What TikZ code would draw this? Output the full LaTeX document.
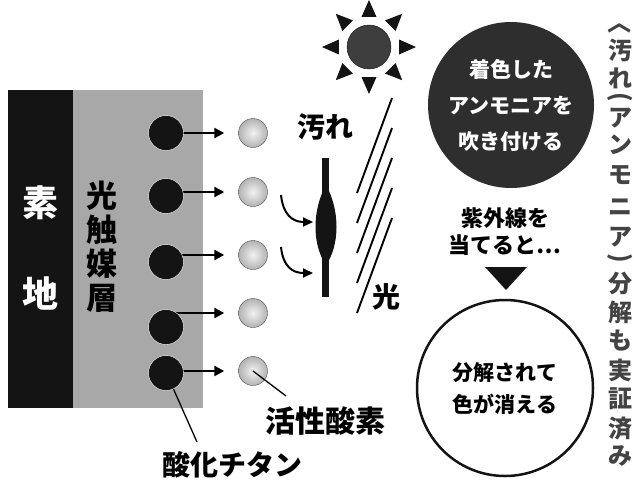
\documentclass[tikz,border=0pt]{standalone}
\usepackage{fontspec}
\setmainfont{Noto Sans CJK JP}
\usetikzlibrary{arrows.meta,positioning,calc}
\definecolor{ink}{HTML}{141414}
\definecolor{layer}{HTML}{A8A8A8}
\definecolor{sunc}{HTML}{3E3E3E}
\definecolor{dye}{HTML}{2E2E2E}
\pgfdeclarelayer{back}
\pgfsetlayers{back,main}

\begin{document}
\begin{tikzpicture}[x=1pt, y=-1pt,
  tio/.style={circle, fill=ink, draw=white, thin, minimum size=35pt, inner sep=0pt},
  rad/.style={circle, inner color=gray!10, outer color=gray!60, draw=gray!60!black,
              minimum size=29pt, inner sep=0pt},
  arr/.style={-{Triangle[length=10pt,width=10pt]}, line width=2.2pt},
  lead/.style={line width=1.3pt},
  lbl/.style={font=\fontsize{28}{28}\selectfont\bfseries, inner sep=0pt},
  bubble/.style={circle, inner sep=0pt, align=center},
  vch/.style={font=\fontsize{24}{24}\selectfont\bfseries, text=ink!80, inner sep=0pt},
  turned/.style={vch, rotate=-90}]
  \useasboundingbox (0,0) rectangle (634,479);

  % substrate and photocatalyst layer
  \begin{pgfonlayer}{back}
    \fill[ink] (8,90) rectangle (73,408);
    \fill[layer] (73,90) rectangle (203,408);
  \end{pgfonlayer}
  \node[text=white, font=\fontsize{36}{36}\selectfont\bfseries] (sub1) at (41,203) {素};
  \node[text=white, font=\fontsize{36}{36}\selectfont\bfseries] (sub2) at (41,293) {地};
  \node[font=\fontsize{31}{34}\selectfont\bfseries, align=center, inner sep=0pt] (cat)
    at (102,247) {光\\触\\媒\\層};

  % titanium oxide -> active oxygen
  \foreach \i/\ya/\yb in {1/133/133, 2/196/192, 3/262/255, 4/327/313, 5/373/371} {
    \node[tio] (tio\i) at (166,\ya) {};
    \node[rad] (rad\i) at (253,\yb) {};
    \begin{pgfonlayer}{back}
      \draw[arr, shorten >=14pt] (rad\i -| tio\i.center) -- (rad\i.west);
    \end{pgfonlayer}
  }

  \node[lbl, font=\fontsize{30}{30}\selectfont\bfseries] (act) at (325,421) {活性酸素};
  \coordinate (actTip) at (286,396);
  \draw[lead] (rad5.center) -- (actTip);
  \node[lbl] (tiox) at (232,465) {酸化チタン};
  \coordinate (tioTip) at (197,442);
  \draw[lead] (tio5.-65) -- (tioTip);

  % stain on the surface
  \node[lbl] (dirt) at (325,127) {汚れ};
  \draw[line width=7pt, ink] (325,158) -- (325,297);
  \fill[ink] (326,185) .. controls (340,210) and (340,245) .. (326,265)
    .. controls (312,245) and (312,210) .. (326,185);
  \coordinate (hit1) at (313,222);
  \coordinate (hit2) at (313,273);
  \draw[-{Triangle[length=10pt,width=9pt]}, line width=2pt] (281,195)
    .. controls (283,214) and (292,222) .. (hit1);
  \draw[-{Triangle[length=10pt,width=9pt]}, line width=2pt] (281,247)
    .. controls (283,266) and (292,273) .. (hit2);

  % sun and rays of light
  \node[circle, fill=sunc, draw=ink, minimum size=44pt, inner sep=0pt] (sun) at (369,47) {};
  \foreach \a in {0,45,...,315}
    \fill[ink] ($(sun.center)+(\a:47)$) -- ($(sun.center)+(\a+14:31)$)
      -- ($(sun.center)+(\a-14:31)$) -- cycle;
  \foreach \k in {0,...,4}
    \draw[line width=1.9pt] (392,98+30*\k) -- ++(-35,95);
  \node[lbl] (light) at (386,297) {光};

  % ammonia test
  \node[bubble, fill=dye, minimum size=166pt, text=white,
        font=\fontsize{21}{36}\selectfont\bfseries] (amm) at (511,105)
    {着色した\\アンモニアを\\吹き付ける};
  \node[align=center, inner sep=0pt, font=\fontsize{22}{27}\selectfont\bfseries]
    (uv) at (505,232) {紫外線を\\当てると…};
  \fill[ink] (485,267) -- (527,267) -- (506,290) -- cycle;
  \node[bubble, draw=ink, line width=2.5pt, minimum size=176pt,
        font=\fontsize{21}{32}\selectfont\bfseries] (gone) at (505,388)
    {分解されて\\色が消える};

  % vertical caption, one glyph at a time
  \foreach \g/\gy [count=\n] in {汚/50, れ/78, ア/118, ン/145, モ/175, ニ/207, ア/237,
      分/284, 解/312, も/341, 実/370, 証/399, 済/429, み/456}
    \node[vch] (cap\n) at (620,\gy) {\g};
  % brackets turned for vertical setting
  \node[turned] (capL) at (620,22) {〈};
  \node[turned] (capP) at (620,97) {(};
  \node[turned] (capQ) at (620,258) {)};
\end{tikzpicture}
\end{document}
